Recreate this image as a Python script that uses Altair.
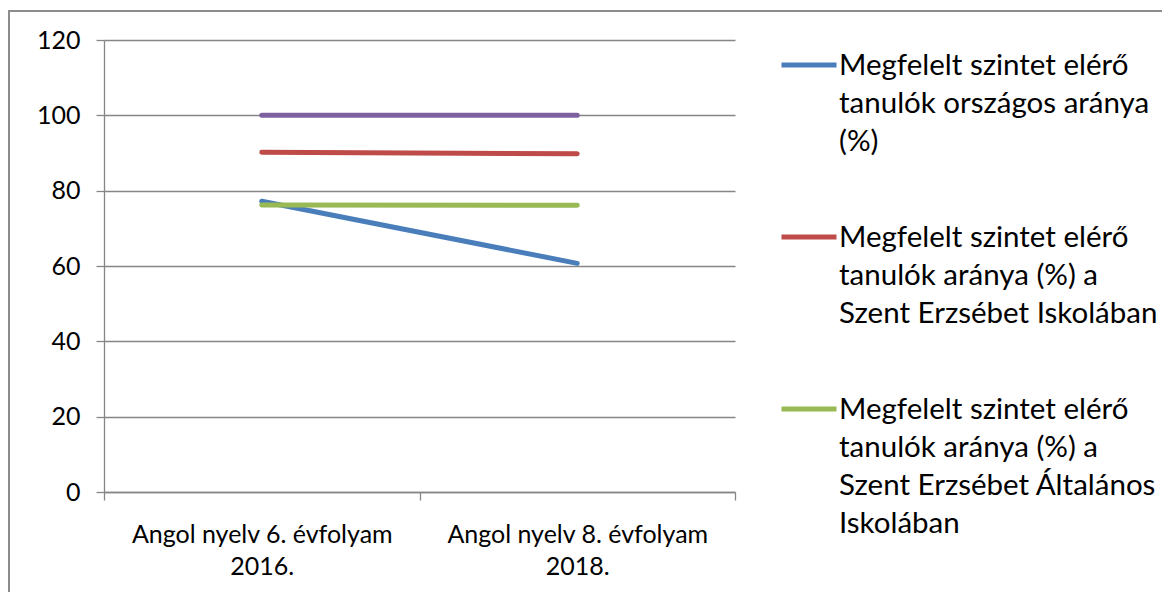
import altair as alt
import pandas as pd

categories = ["Angol nyelv 6. évfolyam 2016.", "Angol nyelv 8. évfolyam 2018."]

legend_lines = [
    ["Megfelelt szintet elérő", "tanulók országos aránya", "(%)"],
    ["Megfelelt szintet elérő", "tanulók aránya (%) a", "Szent Erzsébet Iskolában"],
    ["Megfelelt szintet elérő", "tanulók aránya (%) a", "Szent Erzsébet Általános", "Iskolában"],
]
series_names = [" ".join(l) for l in legend_lines] + ["Adatsor4"]
series_values = [
    [77.2, 60.7],
    [90.2, 89.8],
    [76.2, 76.1],
    [100.0, 100.0],
]
colors = ["#4A7EBB", "#BE4B48", "#98B954", "#7D60A0"]
y_ticks = [0, 20, 40, 60, 80, 100, 120]

rows = []
for name, vals in zip(series_names, series_values):
    for cat, v in zip(categories, vals):
        rows.append({"kategoria": cat, "sorozat": name, "ertek": v})
df = pd.DataFrame(rows)

FONT = "Lato"
DY = -13

label_expr = "".join(
    f"datum.label === {name!r} ? {lines!r} : " for name, lines in zip(series_names[:3], legend_lines)
) + "datum.label"

x_enc = alt.X(
    "kategoria:N",
    sort=categories,
    scale=alt.Scale(type="band", paddingInner=0, paddingOuter=0),
    axis=alt.Axis(
        title=None, labelAngle=0, tickBand="extent", domainColor="#868686", tickColor="#868686",
        domainWidth=1.3, tickWidth=1.3, tickSize=8, labelFont=FONT, labelFontSize=25,
        labelColor="#000000", labelPadding=35, labelLineHeight=32, labelBaseline="top",
        labelExpr="[slice(datum.label, 0, lastindexof(datum.label, ' ')), slice(datum.label, lastindexof(datum.label, ' ') + 1)]",
        labelLimit=0,
    ),
)
y_enc = alt.Y(
    "ertek:Q",
    scale=alt.Scale(domain=[0, 120], nice=False, zero=True),
    axis=alt.Axis(
        title=None, values=y_ticks, grid=True, gridColor="#868686", gridWidth=1.3,
        domainColor="#868686", tickColor="#868686", domainWidth=1.3, tickWidth=1.3, tickSize=8,
        labelFont=FONT, labelFontSize=25, labelColor="#000000", labelPadding=16,
        labelOffset=-DY,
    ),
)
color_enc = alt.Color(
    "sorozat:N",
    scale=alt.Scale(domain=series_names, range=colors),
    legend=alt.Legend(
        values=series_names[:3], title=None, orient="none", legendX=675, legendY=-5,
        symbolType="stroke", symbolSize=3025, symbolStrokeWidth=5, labelOffset=0,
        labelFont=FONT, labelFontSize=29.5, labelColor="#000000", labelLimit=0,
        rowPadding=50, padding=0, labelExpr=label_expr, labelBaseline="top",
    ),
)

base = alt.Chart(df).mark_line(strokeWidth=5, strokeCap="round").encode(x=x_enc, y=y_enc, color=color_enc)
blue = base.transform_filter(alt.datum.sorozat == series_names[0])
others = base.transform_filter(alt.datum.sorozat != series_names[0])

frame = alt.Chart(pd.DataFrame({"a": [0]})).mark_rect(
    fill=None, stroke="#8C8C8C", strokeWidth=2
).encode(x=alt.value(-95), y=alt.value(-29), x2=alt.value(1100), y2=alt.value(700))

chart = alt.layer(frame, blue, others).properties(
    width=631, height=452,
    padding={"left": 96, "top": 32, "right": 427, "bottom": 100},
    autosize=alt.AutoSizeParams(type="none"),
).configure(
    style={"guide-label": {"lineHeight": 38, "dy": DY}}
).configure_view(stroke=None)

chart.save("out.html", embed_options={"renderer": "svg", "actions": False})
